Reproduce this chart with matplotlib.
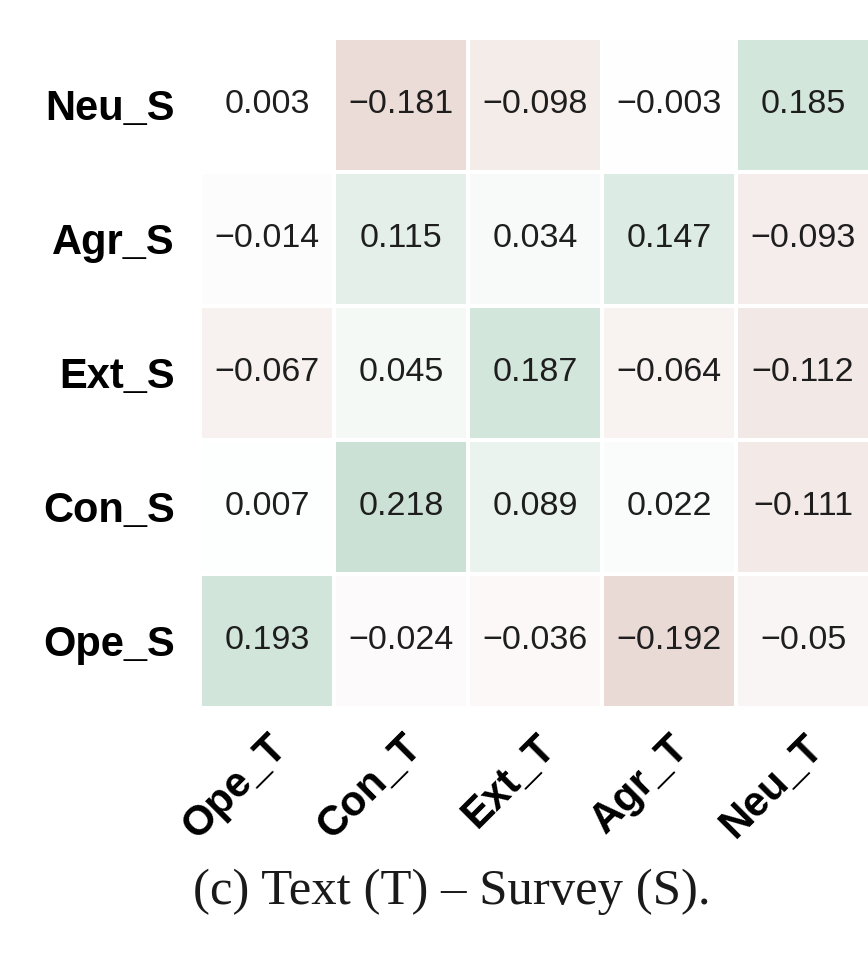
import numpy as np
import matplotlib
matplotlib.use("Agg")
import matplotlib.pyplot as plt
from matplotlib.colors import LinearSegmentedColormap, TwoSlopeNorm

# Correlations between text-derived (T) and survey (S) Big Five scores
row_labels = ["Neu_S", "Agr_S", "Ext_S", "Con_S", "Ope_S"]
col_labels = ["Ope_T", "Con_T", "Ext_T", "Agr_T", "Neu_T"]

neu_s = [0.003, -0.181, -0.098, -0.003, 0.185]
agr_s = [-0.014, 0.115, 0.034, 0.147, -0.093]
ext_s = [-0.067, 0.045, 0.187, -0.064, -0.112]
con_s = [0.007, 0.218, 0.089, 0.022, -0.111]
ope_s = [0.193, -0.024, -0.036, -0.192, -0.05]

values = np.array([neu_s, agr_s, ext_s, con_s, ope_s])

cmap = LinearSegmentedColormap.from_list(
    "pale_div", ["#e3cfc8", "#ffffff", "#c4ddcf"])
norm = TwoSlopeNorm(vmin=-0.25, vcenter=0.0, vmax=0.25)

fig = plt.figure(figsize=(8.68, 9.64), dpi=100)
ax = fig.add_axes([0.2304, 0.2656, 0.772, 0.695])

ax.pcolormesh(values, cmap=cmap, norm=norm, edgecolors="white", linewidth=1.5)
ax.set_xlim(0, len(col_labels))
ax.set_ylim(len(row_labels), 0)

for i in range(values.shape[0]):
    for j in range(values.shape[1]):
        txt = f"{values[i, j]:g}".replace("-", "\u2212")
        ax.text(j + 0.5, i + 0.5, txt, ha="center", va="center",
                fontsize=24.5, color="#1e1e1e", family="Liberation Sans")

ax.set_xticks(np.arange(len(col_labels)) + 0.5)
ax.set_yticks(np.arange(len(row_labels)) + 0.5)
ax.set_xticklabels(col_labels, rotation=45, ha="right", rotation_mode="anchor",
                   fontsize=30, fontweight="bold", family="Liberation Sans")
ax.set_yticklabels(row_labels, rotation=0, fontsize=30, fontweight="bold",
                   family="Liberation Sans")
ax.tick_params(axis="both", length=0)
ax.tick_params(axis="y", pad=18)
ax.tick_params(axis="x", pad=14)
for s in ax.spines.values():
    s.set_visible(False)

fig.text(0.521, 0.075, "(c) Text (T) \u2013 Survey (S).", ha="center", va="center",
         fontsize=36.5, family="Liberation Serif", color="#1a1a1a")

fig.savefig("out.png", dpi=100, facecolor="white")
